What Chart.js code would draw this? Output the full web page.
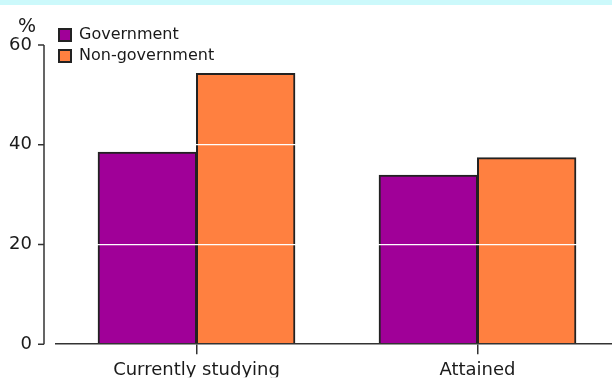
<!DOCTYPE html>
<html>
<head>
<meta charset="utf-8">
<script src="https://cdn.jsdelivr.net/npm/chart.js@4/dist/chart.umd.min.js"></script>
<style>
  html, body { margin: 0; padding: 0; overflow: hidden; background: #fff; }
  #wrap { width: 618px; height: 379px; position: relative; }
</style>
</head>
<body>
<div id="wrap"><canvas id="barchart"></canvas></div>
<script>
const categories = ['Currently studying', 'Attained'];
const government = [38.5, 33.9];
const nonGovernment = [54.3, 37.4];
const seriesNames = ['Government', 'Non-government'];
const yTicks = [0, 20, 40, 60];

Chart.defaults.font.family = '"DejaVu Sans", sans-serif';
Chart.defaults.color = '#1a1a1a';

// light cyan strip along the top, the "%" unit and the detached y axis line
const decorations = {
  id: 'decorations',
  beforeDraw(chart) {
    const ctx = chart.ctx;
    ctx.save();
    ctx.fillStyle = '#ccf9fb';
    ctx.fillRect(0, 0, chart.width, 5);
    ctx.restore();
  },
  afterLayout(chart) {
    // legend sits partly above the plot, like the original
    chart.legend.left = 54;
    chart.legend.top = 22;
  },
  afterDraw(chart) {
    const ctx = chart.ctx;
    const y = chart.scales.y;
    const x0 = chart.chartArea.left - 12;
    ctx.save();
    ctx.strokeStyle = '#333';
    ctx.lineWidth = 1.5;
    ctx.beginPath();
    ctx.moveTo(x0, y.getPixelForValue(yTicks[yTicks.length - 1]));
    ctx.lineTo(x0, y.getPixelForValue(yTicks[0]));
    yTicks.forEach(v => {
      const py = y.getPixelForValue(v);
      ctx.moveTo(x0 - 6, py);
      ctx.lineTo(x0, py);
    });
    ctx.stroke();
    ctx.fillStyle = '#1a1a1a';
    ctx.font = '19px "DejaVu Sans"';
    ctx.textAlign = 'center';
    ctx.textBaseline = 'middle';
    ctx.fillText('%', 27, 27);
    ctx.restore();
  }
};

new Chart(document.getElementById('barchart'), {
  type: 'bar',
  data: {
    labels: categories,
    datasets: [{
      label: seriesNames[0],
      data: government,
      backgroundColor: '#a00098',
      borderColor: '#222',
      borderWidth: 2,
      inflateAmount: 0.5,
    }, {
      label: seriesNames[1],
      data: nonGovernment,
      backgroundColor: '#ff8040',
      borderColor: '#222',
      borderWidth: 2,
      inflateAmount: 0.5,
    }]
  },
  options: {
    responsive: true,
    maintainAspectRatio: false,
    animation: false,
    layout: { padding: { top: 45, left: 0, right: 0, bottom: 0 } },
    datasets: {
      bar: { categoryPercentage: 0.7, barPercentage: 1.0 }
    },
    plugins: {
      title: { display: false },
      tooltip: { enabled: false },
      legend: {
        display: true,
        position: 'chartArea',
        align: 'start',
        labels: {
          boxWidth: 12,
          boxHeight: 12,
          padding: 5,
          color: '#1a1a1a',
          font: { size: 16 }
        }
      }
    },
    scales: {
      x: {
        grid: {
          z: 1,
          offset: false,
          drawOnChartArea: false,
          tickLength: 10,
          color: '#333',
          lineWidth: 1.5
        },
        border: { display: true, color: '#333', width: 1.5, z: 1 },
        ticks: { font: { size: 18 }, padding: 5, color: '#1a1a1a' },
        afterFit: scale => { scale.height = 33; }
      },
      y: {
        min: 0,
        max: 60,
        afterBuildTicks: scale => { scale.ticks = yTicks.map(v => ({ value: v })); },
        grid: {
          z: 1,
          drawTicks: false,
          lineWidth: 1.2,
          color: c => (c.tick && c.tick.value === 0) ? 'rgba(0,0,0,0)' : '#ffffff'
        },
        border: { display: false },
        ticks: { font: { size: 18 }, padding: 24, color: '#1a1a1a' },
        afterFit: scale => { scale.width = 56; }
      }
    }
  },
  plugins: [decorations]
});
</script>
</body>
</html>
